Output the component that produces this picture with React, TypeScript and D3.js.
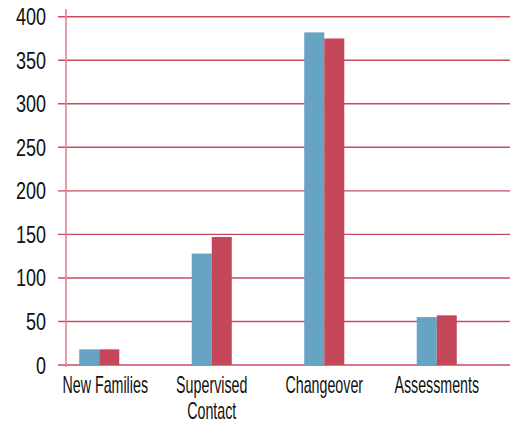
import React from "react";
import * as d3 from "d3";

const categories: string[][] = [["New Families"], ["Supervised", "Contact"], ["Changeover"], ["Assessments"]];
const seriesA: number[] = [18, 128, 382, 55];
const seriesB: number[] = [18, 147, 375, 57];
const yTicks: number[] = [0, 50, 100, 150, 200, 250, 300, 350, 400];

const W = 516;
const H = 425;
const BLUE = "#67a3c3";
const RED = "#c4475a";
const GRID = "#c94a5f";
const AXIS = "#db8594";
const FONT = "'Liberation Sans', Arial, sans-serif";

export default function App() {
  const keys = categories.map((c) => c.join(" "));
  const y = d3.scaleLinear().domain([0, 400]).range([365, 16.7]);
  const x = d3.scaleBand<string>().domain(keys).range([43, 493]).paddingInner(0.644).paddingOuter(0.322);
  const inner = d3.scaleBand<string>().domain(["a", "b"]).range([0, x.bandwidth()]);
  const gridX0 = 58;
  const gridX1 = 510;
  const axisX = 66;

  return (
    <svg width={W} height={H} style={{ position: "absolute", left: 0, top: 0, background: "#fff" }}>
      {yTicks.map((t) => (
        <line key={t} x1={gridX0} x2={gridX1} y1={y(t)} y2={y(t)} stroke={GRID} strokeWidth={1.4} />
      ))}
      <line x1={axisX} x2={axisX} y1={9} y2={367} stroke={AXIS} strokeWidth={1.6} />
      {keys.map((k, i) => (
        <g key={k}>
          <rect x={(x(k) ?? 0) + (inner("a") ?? 0)} y={y(seriesA[i])} width={inner.bandwidth()} height={y(0) - y(seriesA[i])} fill={BLUE} />
          <rect x={(x(k) ?? 0) + (inner("b") ?? 0)} y={y(seriesB[i])} width={inner.bandwidth()} height={y(0) - y(seriesB[i])} fill={RED} />
        </g>
      ))}
      {yTicks.map((t) => (
        <g key={"l" + t} transform={`translate(46,${y(t) + 8.5}) scale(0.75,1)`}>
          <text textAnchor="end" fontFamily={FONT} fontSize={24} fill="#111">
            {t}
          </text>
        </g>
      ))}
      {categories.map((lines, i) => (
        <g key={"c" + i} transform={`translate(${(x(keys[i]) ?? 0) + x.bandwidth() / 2 + (i === 0 ? 6 : 0)},393) scale(0.62,1)`}>
          {lines.map((ln, j) => (
            <text key={ln} x={0} y={j * 26} textAnchor="middle" fontFamily={FONT} fontSize={23} fill="#111">
              {ln}
            </text>
          ))}
        </g>
      ))}
    </svg>
  );
}
